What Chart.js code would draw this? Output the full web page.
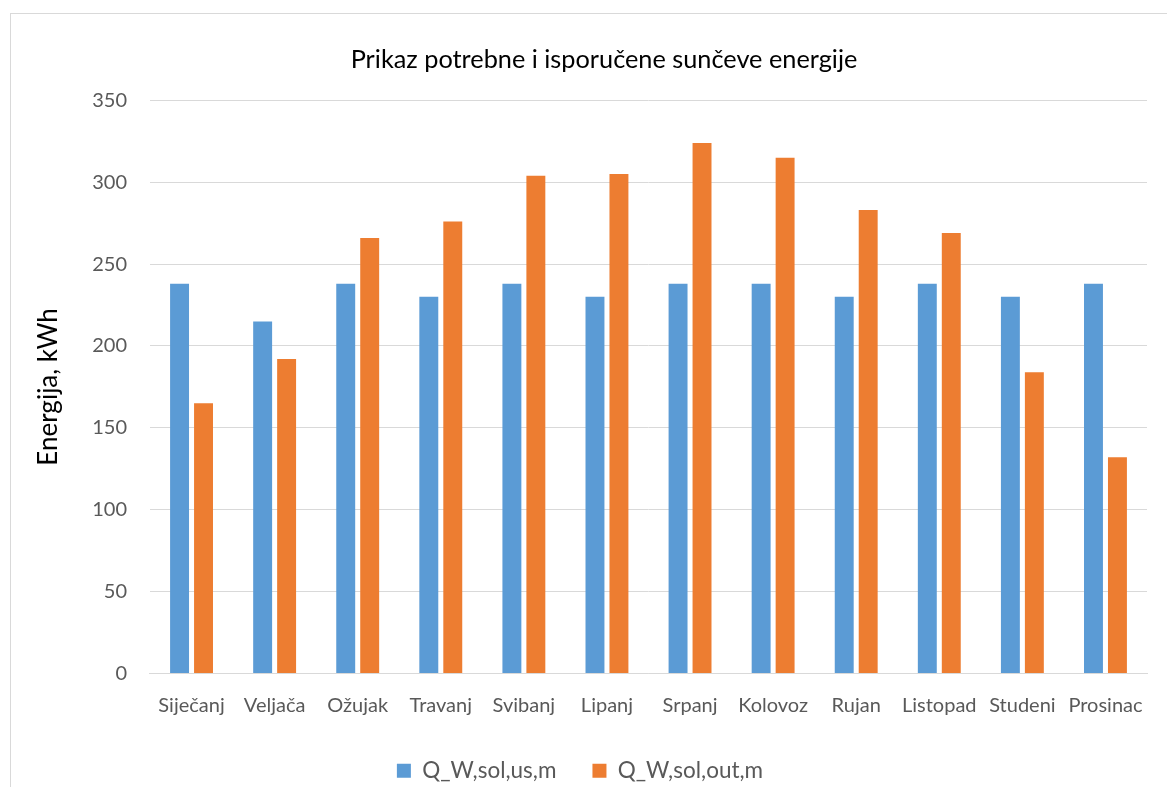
<!DOCTYPE html>
<html>
<head>
<meta charset="utf-8">
<script src="https://cdn.jsdelivr.net/npm/chart.js@4.4.0/dist/chart.umd.min.js"></script>
<style>
  html, body { margin: 0; padding: 0; background: #fff; overflow: hidden; }
  #frame {
    position: absolute; left: 10px; top: 13px;
    width: 1178px; height: 778px;
    border: 1px solid #d9d9d9;
  }
</style>
</head>
<body>
<div id="frame"><canvas id="myChart" width="1178" height="778"></canvas></div>
<script>
// chart data
const months = ["Siječanj", "Veljača", "Ožujak", "Travanj", "Svibanj", "Lipanj",
                "Srpanj", "Kolovoz", "Rujan", "Listopad", "Studeni", "Prosinac"];
const usedValues = [238, 215, 238, 230, 238, 230, 238, 238, 230, 238, 230, 238];
const outValues = [165, 192, 266, 276, 304, 305, 324, 315, 283, 269, 184, 132];
const yTicks = [0, 50, 100, 150, 200, 250, 300, 350];

const fontName = "Lato, 'Noto Sans', sans-serif";

// Excel centres title and legend on the whole chart box, not on the plot,
// so move them sideways a little after layout
const boxShift = {
  id: "boxShift",
  afterLayout(chart) {
    chart.titleBlock.left += 14;
    chart.titleBlock.right += 14;
    chart.legend.left -= 10;
    chart.legend.right -= 10;
  }
};

new Chart("myChart", {
  type: "bar",
  data: {
    labels: months,
    datasets: [{
      label: "Q_W,sol,us,m",
      data: usedValues,
      backgroundColor: "#5B9BD5"
    }, {
      label: "Q_W,sol,out,m",
      data: outValues,
      backgroundColor: "#ED7D31"
    }]
  },
  options: {
    responsive: false,
    animation: false,
    barPercentage: 0.79,
    categoryPercentage: 0.577,
    layout: { padding: { left: 22, right: 42, top: 0, bottom: 0 } },
    plugins: {
      title: {
        display: true,
        text: "Prikaz potrebne i isporučene sunčeve energije",
        color: "#000",
        font: { family: fontName, size: 25.3, weight: "normal" },
        padding: { top: 31, bottom: 25 }
      },
      legend: {
        position: "bottom",
        labels: {
          boxWidth: 14,
          boxHeight: 14,
          padding: 36,
          color: "#595959",
          font: { family: fontName, size: 22.5 }
        }
      },
      tooltip: { enabled: false }
    },
    scales: {
      x: {
        grid: { display: false, drawTicks: true, tickLength: 20 },
        border: { color: "#d9d9d9", width: 1 },
        ticks: {
          color: "#595959",
          font: { family: fontName, size: 20 },
          padding: 0,
          maxRotation: 0,
          autoSkip: false
        },
        title: { display: true, text: " ", font: { size: 5 }, padding: 0 }
      },
      y: {
        min: 0,
        max: 350,
        afterBuildTicks(axis) {
          axis.ticks = yTicks.map(v => ({ value: v }));
        },
        grid: { color: "#d9d9d9", lineWidth: 1, drawTicks: false },
        border: { display: false },
        ticks: {
          color: "#595959",
          font: { family: fontName, size: 20 },
          padding: 23
        },
        title: {
          display: true,
          text: "Energija, kWh",
          color: "#000",
          font: { family: fontName, size: 26 },
          padding: { top: 0, bottom: 5 }
        }
      }
    }
  },
  plugins: [boxShift]
});
</script>
</body>
</html>
